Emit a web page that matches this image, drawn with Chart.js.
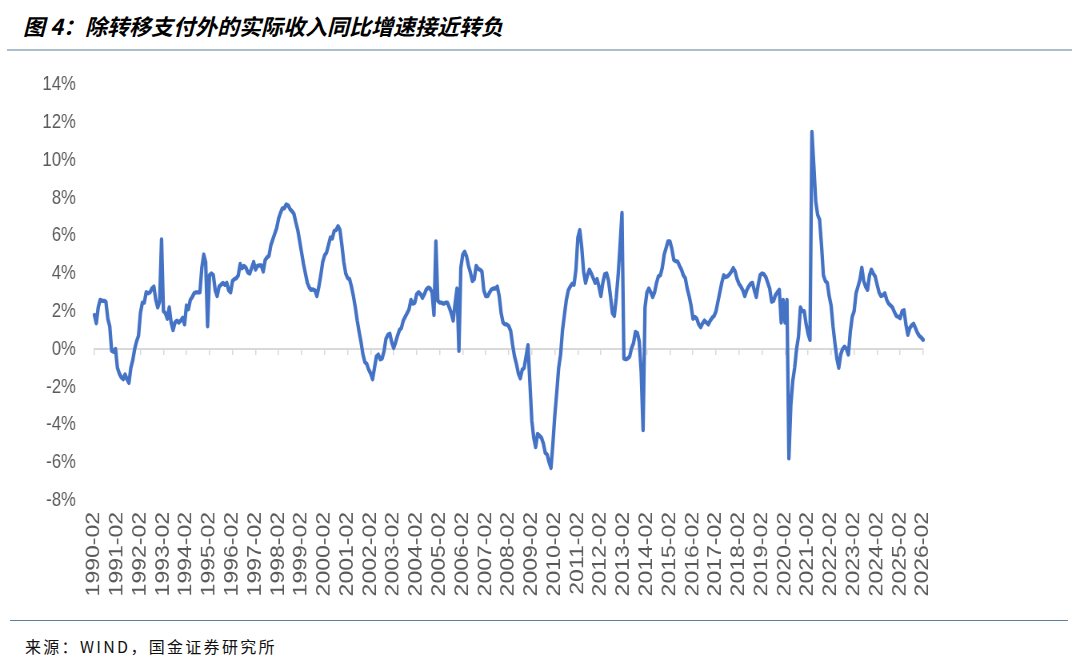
<!DOCTYPE html>
<html>
<head>
<meta charset="utf-8">
<script src="https://cdn.jsdelivr.net/npm/chart.js@4.4.1/dist/chart.umd.min.js"></script>
<style>
    html, body { margin: 0; padding: 0; background: #fff; }
    #page { position: relative; width: 1080px; height: 664px; overflow: hidden; }
    #title {
        position: absolute; left: 23px; top: 9px;
        font-family: "Noto Sans CJK SC", sans-serif; font-size: 22px;
        font-weight: bold; font-style: italic; color: #000; white-space: nowrap;
    }
    #titleLine { position: absolute; left: 7px; top: 49px; width: 1065px; border-top: 2px solid #a9bfcd; }
    #chartBox {
        position: absolute; left: 0; top: 49px; width: 1350px; height: 569px;
        transform: scaleX(0.8); transform-origin: 0 0;
    }
    #footLine { position: absolute; left: 10px; top: 620px; width: 1058px; border-top: 1.5px solid #5d7fa0; }
    #source {
        position: absolute; left: 25px; top: 634px;
        font-family: "Noto Sans CJK SC", sans-serif; font-size: 16px;
        letter-spacing: 2.3px; color: #111; white-space: nowrap;
    }
</style>
</head>
<body>
<div id="page">
    <div id="title">图 4：除转移支付外的实际收入同比增速接近转负</div>
    <div id="titleLine"></div>
    <div id="chartBox"><canvas id="incomeChart" width="1350" height="569" style="width:1350px;height:569px"></canvas></div>
    <div id="footLine"></div>
    <div id="source">来源：WIND，国金证券研究所</div>
</div>
<script>
// monthly series starts at 1990-02, one row per year (Feb .. next Jan)
const startYear = 1990;
const startMonth = 2;

const growth1990s = [
    1.8, 1.36, 2.2, 2.6, 2.55, 2.55, 2.5, 1.6, 1.2, -0.1, -0.15, 0.0,
    -1.0, -1.3, -1.5, -1.6, -1.35, -1.6, -1.8, -1.0, -0.6, 0.0, 0.4, 0.7,
    1.9, 2.45, 2.45, 3.0, 2.95, 3.0, 3.2, 3.3, 2.6, 2.2, 2.5, 5.8,
    2.0, 1.9, 1.6, 2.2, 1.4, 1.0, 1.4, 1.5, 1.4, 1.5, 1.65, 1.3,
    2.3, 2.1, 2.6, 2.75, 2.95, 3.0, 3.0, 3.0, 4.3, 5.0, 4.6, 1.2,
    3.9, 4.0, 3.9, 3.1, 2.8, 3.3, 3.4, 3.5, 3.4, 3.5, 3.1, 3.0,
    3.6, 3.7, 3.75, 3.9, 4.5, 4.28, 4.4, 4.3, 4.05, 4.0, 4.3, 4.6,
    4.2, 4.4, 4.42, 4.42, 4.1, 4.7, 4.85, 4.93, 5.5, 5.8, 6.1, 6.4,
    6.9, 7.2, 7.45, 7.45, 7.65, 7.6, 7.4, 7.3, 7.15, 6.7, 6.3, 5.7,
    5.1, 4.5, 4.0, 3.5, 3.25, 3.13, 3.15, 3.1, 2.8, 3.3, 3.9, 4.6
];

const growth2000s = [
    4.95, 5.1, 5.5, 5.9, 5.85, 6.25, 6.3, 6.5, 6.3, 5.5, 4.6, 4.0,
    3.75, 3.7, 3.3, 2.8, 2.2, 1.5, 0.9, 0.35, -0.3, -0.7, -0.8, -1.1,
    -1.3, -1.6, -1.0, -0.4, -0.3, -0.55, -0.5, -0.1, 0.55, 0.75, 0.8, 0.35,
    0.05, 0.35, 0.7, 1.0, 1.1, 1.5, 1.7, 1.9, 2.1, 2.6, 2.4, 2.45,
    2.9, 3.0, 2.9, 2.7, 2.9, 3.15, 3.25, 3.2, 3.0, 1.8, 5.7, 2.55,
    2.45, 2.45, 2.4, 2.45, 2.45, 2.2, 1.9, 1.5, 2.4, 3.2, -0.1, 4.3,
    5.0, 5.15, 4.9, 4.4, 4.05, 3.6, 3.7, 4.4, 4.25, 4.2, 4.1, 3.1,
    2.8, 2.8, 3.0, 3.15, 3.2, 3.2, 3.3, 2.8, 1.9, 1.4, 1.3, 1.3,
    1.2, 0.95, 0.2, -0.4, -0.8, -1.3, -1.55, -1.1, -1.0, -0.4, 0.2, -1.8,
    -3.8, -4.7, -5.2, -4.5, -4.6, -4.7, -5.0, -5.5, -5.6, -6.0, -6.3, -5.0
];

const growth2010s = [
    -3.5, -2.3, -1.0, -0.3, 1.0, 1.8, 2.6, 3.1, 3.3, 3.45, 3.4, 4.2,
    5.9, 6.3, 5.4, 4.1, 3.5, 3.9, 4.2, 4.0, 3.75, 3.5, 3.7, 3.3,
    2.8, 3.5, 3.95, 4.0, 3.6, 2.8, 1.9, 1.75, 2.7, 3.9, 5.5, 7.2,
    -0.5, -0.55, -0.5, -0.4, 0.05, 0.3, 0.9, 0.85, 0.4, -1.2, -4.3, 2.2,
    3.0, 3.2, 3.0, 2.75, 3.0, 3.5, 3.85, 3.9, 4.3, 5.0, 5.35, 5.7,
    5.7, 5.3, 4.72, 4.65, 4.63, 4.4, 4.2, 3.9, 3.75, 3.2, 2.8, 2.3,
    1.6, 1.7, 1.6, 1.3, 1.15, 1.35, 1.5, 1.4, 1.3, 1.5, 1.65, 1.75,
    2.0, 2.5, 3.0, 3.5, 3.9, 3.8, 3.85, 3.95, 4.1, 4.28, 4.1, 3.7,
    3.45, 3.3, 3.1, 2.8, 3.1, 3.3, 3.45, 3.5, 3.1, 2.75, 3.4, 3.9,
    4.0, 3.95, 3.8, 3.5, 3.2, 2.5, 2.55, 2.85, 3.0, 3.13, 1.4, 2.6
];

const growth2020s = [
    1.4, 2.6, -5.8, -3.0, -1.7, -1.0, 0.0, 0.65, 2.2, 2.0, 2.0, 1.3,
    0.8, 0.48, 11.5, 9.7, 7.8, 7.1, 6.84, 5.5, 3.9, 3.6, 3.5, 2.8,
    2.3, 1.2, 0.3, -0.5, -1.0, -0.3, 0.0, 0.12, 0.0, -0.3, 0.9, 1.7,
    2.0, 2.95, 3.3, 3.66, 4.3, 3.6, 3.3, 3.13, 3.9, 4.2, 4.0, 3.83,
    3.4, 3.0, 2.8, 2.85, 2.95, 2.6, 2.4, 2.3, 2.2, 1.95, 1.75, 1.7,
    1.63, 2.0, 2.05, 1.3, 0.75, 1.1, 1.25, 1.33, 1.1, 0.85, 0.69, 0.6,
    0.48
];

const yTicks = [-8, -6, -4, -2, 0, 2, 4, 6, 8, 10, 12, 14];

document.addEventListener("DOMContentLoaded", () => {

    const values = growth1990s.concat(growth2000s, growth2010s, growth2020s);

    const months = [];
    for (let i = 0; i < values.length; i++) {
        const m = startMonth - 1 + i;
        const year = startYear + Math.floor(m / 12);
        const month = (m % 12) + 1;
        months.push(year + "-" + (month < 10 ? "0" + month : month));
    }

    const axisGrey = "#d9d9d9";
    const textGrey = "#595959";

    const ctx = document.getElementById("incomeChart");
    new Chart(ctx, {
        type: "line",
        data: {
            labels: months,
            datasets: [{
                data: values,
                borderColor: "#4472C4",
                borderWidth: 4.3,
                pointRadius: 0,
                tension: 0,
                borderJoinStyle: "round",
                borderCapStyle: "round",
                xAxisID: "x",
                yAxisID: "y"
            }]
        },
        options: {
            responsive: false,
            animation: false,
            layout: { padding: { top: 9, right: 196, bottom: 0, left: 0 } },
            plugins: {
                legend: { display: false },
                tooltip: { enabled: false }
            },
            scales: {
                y: {
                    min: yTicks[0],
                    max: yTicks[yTicks.length - 1],
                    afterBuildTicks: scale => {
                        scale.ticks = yTicks.map(v => ({ value: v }));
                    },
                    afterFit: scale => { scale.width = 118; },
                    grid: { display: false, drawTicks: false },
                    border: { display: false },
                    ticks: {
                        padding: 23,
                        color: textGrey,
                        font: { family: "Liberation Sans", size: 21 },
                        callback: v => v + "%"
                    }
                },
                x: {
                    position: "bottom",
                    afterFit: scale => { scale.height = 118; },
                    grid: { display: false, drawTicks: false },
                    border: { display: false },
                    ticks: {
                        autoSkip: false,
                        maxRotation: 90,
                        minRotation: 90,
                        padding: 12,
                        color: textGrey,
                        font: { family: "Liberation Sans", size: 23 },
                        callback: function(value, index) {
                            return index % 12 === 0 ? this.getLabelForValue(value) : "";
                        }
                    }
                },
                x0: {
                    type: "category",
                    position: { y: 0 },
                    grid: {
                        drawOnChartArea: false,
                        drawTicks: true,
                        tickLength: 5,
                        lineWidth: 1.5,
                        color: c => (c.index % 12 === 0 ? axisGrey : "rgba(0,0,0,0)")
                    },
                    border: { display: true, color: axisGrey, width: 2 },
                    ticks: { display: false, autoSkip: false }
                }
            }
        }
    });
});
</script>
</body>
</html>
